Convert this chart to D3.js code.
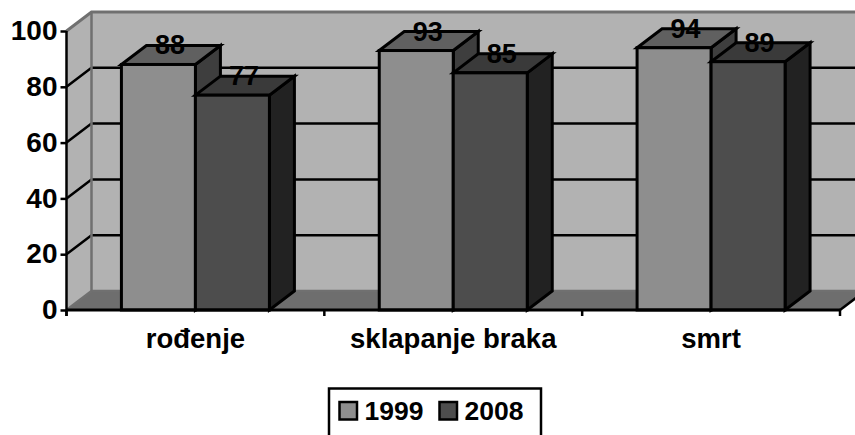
<!DOCTYPE html>
<html>
<head>
<meta charset="utf-8">
<script src="https://cdn.jsdelivr.net/npm/d3@7"></script>
<style>
  html, body { margin: 0; padding: 0; background: #fff; overflow: hidden; }
  svg { display: block; }
  text { font-family: "Liberation Sans", Arial, sans-serif; font-weight: bold; fill: #000; }
</style>
</head>
<body>
<div id="chart"></div>
<script>
const categories = ['rođenje', 'sklapanje braka', 'smrt'];
const seriesNames = ['1999', '2008'];
const values1999 = [88, 93, 94];
const values2008 = [77, 85, 89];
const yTicks = [0, 20, 40, 60, 80, 100];

const width = 855, height = 435;
const depthX = 25, depthY = 19; // 3d offset of the back wall

const colors = {
  '1999': {front: '#8e8e8e', top: '#606060', side: '#3e3e3e'},
  '2008': {front: '#4d4d4d', top: '#3a3a3a', side: '#222222'}
};

const svg = d3.select('#chart').append('svg')
  .attr('width', width)
  .attr('height', height);

const y = d3.scaleLinear().domain([0, 100]).range([310, 31]);
const x = d3.scaleBand().domain(categories).range([66.5, 840]).paddingInner(0.426).paddingOuter(0.213);
const xInner = d3.scaleBand().domain(seriesNames).range([0, x.bandwidth()]);

const x0 = x.range()[0], x1 = x.range()[1];
const pts = a => a.map(p => p.join(',')).join(' ');

// back wall and left wall
svg.append('rect')
  .attr('x', x0 + depthX).attr('y', y(100) - depthY)
  .attr('width', x1 - x0 + 20).attr('height', y(0) - y(100))
  .attr('fill', '#b2b2b2');
svg.append('polygon')
  .attr('points', pts([[x0, y(100)], [x0 + depthX, y(100) - depthY], [x0 + depthX, y(0) - depthY], [x0, y(0)]]))
  .attr('fill', '#b2b2b2');

// floor
svg.append('polygon')
  .attr('points', pts([[x0, y(0)], [x0 + depthX, y(0) - depthY], [x1 + depthX, y(0) - depthY], [x1, y(0)]]))
  .attr('fill', '#6e6e6e');

// grid lines on both walls
yTicks.filter(t => t > 0 && t < 100).forEach(t => {
  svg.append('path')
    .attr('d', `M${x0},${y(t)}L${x0 + depthX},${y(t) - depthY}L${width},${y(t) - depthY}`)
    .attr('fill', 'none').attr('stroke', '#000').attr('stroke-width', 2.5);
});

// grey wall edges
svg.append('path')
  .attr('d', `M${x0},${y(100)}L${x0 + depthX},${y(100) - depthY}L${width},${y(100) - depthY}`)
  .attr('fill', 'none').attr('stroke', '#707070').attr('stroke-width', 3);
svg.append('path')
  .attr('d', `M${x0 + depthX},${y(100) - depthY}V${y(0) - depthY}H${width}`)
  .attr('fill', 'none').attr('stroke', '#707070').attr('stroke-width', 2.5);
svg.append('path')
  .attr('d', `M${x0},${y(0)}L${x0 + depthX},${y(0) - depthY}`)
  .attr('fill', 'none').attr('stroke', '#707070').attr('stroke-width', 2.5);
svg.append('path')
  .attr('d', `M${x1},${y(0)}L${x1 + depthX},${y(0) - depthY}`)
  .attr('fill', 'none').attr('stroke', '#000').attr('stroke-width', 2.5);

const seriesValues = {'1999': values1999, '2008': values2008};

// bars, left to right so each one overlaps the side of the previous
const barGroup = svg.append('g').attr('stroke', '#000').attr('stroke-width', 3).attr('stroke-linejoin', 'miter');
categories.forEach((cat, i) => {
  seriesNames.forEach(name => {
    const v = seriesValues[name][i];
    const left = x(cat) + xInner(name);
    const right = left + xInner.bandwidth();
    const c = colors[name];
    barGroup.append('polygon')
      .attr('points', pts([[right, y(v)], [right + depthX, y(v) - depthY], [right + depthX, y(0) - depthY], [right, y(0)]]))
      .attr('fill', c.side);
    barGroup.append('polygon')
      .attr('points', pts([[left, y(v)], [left + depthX, y(v) - depthY], [right + depthX, y(v) - depthY], [right, y(v)]]))
      .attr('fill', c.top);
    barGroup.append('rect')
      .attr('x', left).attr('y', y(v))
      .attr('width', right - left).attr('height', y(0) - y(v))
      .attr('fill', c.front);
  });
});

// axes
const yAxis = d3.axisLeft(y).tickValues(yTicks).tickSize(6).tickPadding(3);
const yG = svg.append('g').attr('transform', `translate(${x0},0)`).call(yAxis);
yG.select('.domain').attr('stroke', '#000').attr('stroke-width', 2.5).attr('d', `M0,${y(100)}V${y(0) + 6}`);
yG.selectAll('.tick line').attr('stroke', '#000').attr('stroke-width', 2.5);
yG.selectAll('text').style('font-size', '28px').attr('dy', '0.31em').attr('fill', '#000');

const xAxis = d3.axisBottom(x).tickSize(0).tickPadding(18);
const xG = svg.append('g').attr('transform', `translate(0,${y(0)})`).call(xAxis);
xG.select('.domain').remove();
xG.selectAll('text').style('font-size', '27.5px').attr('fill', '#000').attr('dy', '0.71em');

svg.append('line')
  .attr('x1', x0).attr('x2', x1).attr('y1', y(0)).attr('y2', y(0))
  .attr('stroke', '#000').attr('stroke-width', 3);

// category separator ticks under the axis
d3.range(categories.length + 1).forEach(i => {
  const tx = x0 + i * x.step();
  svg.append('line')
    .attr('x1', tx).attr('x2', tx).attr('y1', y(0)).attr('y2', y(0) + 6)
    .attr('stroke', '#000').attr('stroke-width', 2.5);
});

// value labels sit on the back edge of the bar top
categories.forEach((cat, i) => {
  seriesNames.forEach(name => {
    const v = seriesValues[name][i];
    svg.append('text')
      .attr('x', x(cat) + xInner(name) + xInner.bandwidth() / 2 + depthX / 2 - 1)
      .attr('y', y(v) - depthY + 9)
      .attr('text-anchor', 'middle')
      .style('font-size', '27px')
      .text(v);
  });
});

// legend, its box runs off the bottom of the picture
svg.append('rect')
  .attr('x', 329).attr('y', 388.5).attr('width', 212).attr('height', 60)
  .attr('fill', '#fff').attr('stroke', '#000').attr('stroke-width', 2.5);
const legendX = d3.scalePoint().domain(seriesNames).range([339.5, 439.5]);
seriesNames.forEach(name => {
  svg.append('rect')
    .attr('x', legendX(name)).attr('y', 402).attr('width', 17.5).attr('height', 17.5)
    .attr('fill', colors[name].front).attr('stroke', '#000').attr('stroke-width', 2.5);
  svg.append('text')
    .attr('x', legendX(name) + 25).attr('y', 420)
    .style('font-size', '26.5px')
    .text(name);
});
</script>
</body>
</html>
